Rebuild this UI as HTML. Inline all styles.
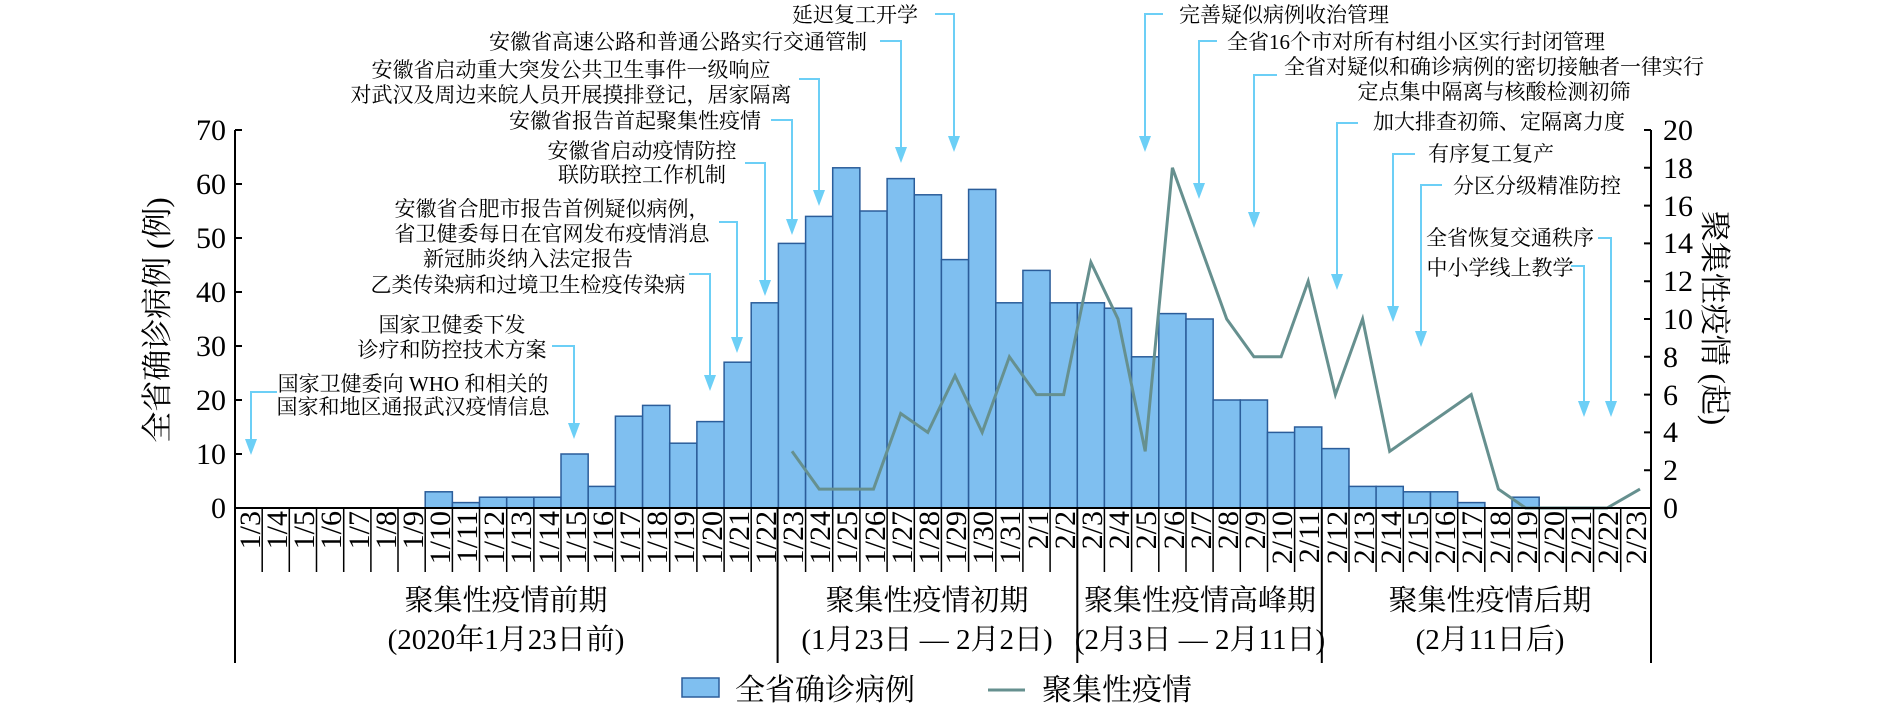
<!DOCTYPE html>
<html><head><meta charset="utf-8"><style>
body{margin:0;background:#fff}
svg{display:block}
text{font-family:"Liberation Serif","Noto Serif CJK SC",serif;fill:#000}
.a{font-size:21px;text-anchor:middle}
.d{font-size:30px;text-anchor:end}
.t{font-size:30px}
</style></head><body>
<svg width="1890" height="710" viewBox="0 0 1890 710" xmlns="http://www.w3.org/2000/svg">
<g fill="#7fbff0" stroke="#2b5d9a" stroke-width="1.5">
<rect x="425.2" y="491.8" width="27.17" height="16.2"/>
<rect x="452.4" y="502.6" width="27.17" height="5.4"/>
<rect x="479.5" y="497.2" width="27.17" height="10.8"/>
<rect x="506.7" y="497.2" width="27.17" height="10.8"/>
<rect x="533.9" y="497.2" width="27.17" height="10.8"/>
<rect x="561.0" y="454" width="27.17" height="54"/>
<rect x="588.2" y="486.4" width="27.17" height="21.6"/>
<rect x="615.4" y="416.2" width="27.17" height="91.8"/>
<rect x="642.6" y="405.4" width="27.17" height="102.6"/>
<rect x="669.7" y="443.2" width="27.17" height="64.8"/>
<rect x="696.9" y="421.6" width="27.17" height="86.4"/>
<rect x="724.1" y="362.2" width="27.17" height="145.8"/>
<rect x="751.2" y="302.8" width="27.17" height="205.2"/>
<rect x="778.4" y="243.4" width="27.17" height="264.6"/>
<rect x="805.6" y="216.4" width="27.17" height="291.6"/>
<rect x="832.7" y="167.8" width="27.17" height="340.2"/>
<rect x="859.9" y="211" width="27.17" height="297"/>
<rect x="887.1" y="178.6" width="27.17" height="329.4"/>
<rect x="914.3" y="194.8" width="27.17" height="313.2"/>
<rect x="941.4" y="259.6" width="27.17" height="248.4"/>
<rect x="968.6" y="189.4" width="27.17" height="318.6"/>
<rect x="995.8" y="302.8" width="27.17" height="205.2"/>
<rect x="1022.9" y="270.4" width="27.17" height="237.6"/>
<rect x="1050.1" y="302.8" width="27.17" height="205.2"/>
<rect x="1077.3" y="302.8" width="27.17" height="205.2"/>
<rect x="1104.4" y="308.2" width="27.17" height="199.8"/>
<rect x="1131.6" y="356.8" width="27.17" height="151.2"/>
<rect x="1158.8" y="313.6" width="27.17" height="194.4"/>
<rect x="1186.0" y="319" width="27.17" height="189"/>
<rect x="1213.1" y="400" width="27.17" height="108"/>
<rect x="1240.3" y="400" width="27.17" height="108"/>
<rect x="1267.5" y="432.4" width="27.17" height="75.6"/>
<rect x="1294.6" y="427" width="27.17" height="81"/>
<rect x="1321.8" y="448.6" width="27.17" height="59.4"/>
<rect x="1349.0" y="486.4" width="27.17" height="21.6"/>
<rect x="1376.1" y="486.4" width="27.17" height="21.6"/>
<rect x="1403.3" y="491.8" width="27.17" height="16.2"/>
<rect x="1430.5" y="491.8" width="27.17" height="16.2"/>
<rect x="1457.7" y="502.6" width="27.17" height="5.4"/>
<rect x="1512.0" y="497.2" width="27.17" height="10.8"/>
</g>
<polyline fill="none" stroke="#66908f" stroke-width="3" stroke-linejoin="miter" points="792,451.3 819.2,489.1 846.3,489.1 873.5,489.1 900.7,413.5 927.8,432.4 955,375.7 982.2,432.4 1009.4,356.8 1036.5,394.6 1063.7,394.6 1090.9,262.3 1118,319 1145.2,451.3 1172.4,167.8 1199.5,243.4 1226.7,319 1253.9,356.8 1281.1,356.8 1308.2,281.2 1335.4,394.6 1362.6,319 1389.7,451.3 1416.9,432.4 1444.1,413.5 1471.2,394.6 1498.4,489.1 1525.6,508 1552.7,508 1579.9,508 1607.1,508 1640,489.1"/>
<g stroke="#000" stroke-width="2" fill="none">
<line x1="235" y1="130" x2="235" y2="663"/>
<line x1="1651" y1="130" x2="1651" y2="663"/>
<line x1="234" y1="508" x2="1652" y2="508"/>
<path d="M235 130h7M235 184h7M235 238h7M235 292h7M235 346h7M235 400h7M235 454h7"/>
<path d="M1651 130h-7M1651 167.8h-7M1651 205.6h-7M1651 243.4h-7M1651 281.2h-7M1651 319h-7M1651 356.8h-7M1651 394.6h-7M1651 432.4h-7M1651 470.2h-7"/>
<path d="M777.6 508V663M1077.3 508V663M1321.8 508V663"/>
</g>
<g stroke="#000" stroke-width="1.5">
<path d="M262.2 508V572M289.3 508V572M316.5 508V572M343.7 508V572M370.9 508V572M398 508V572M425.2 508V572M452.4 508V572M479.5 508V572M506.7 508V572M533.9 508V572M561 508V572M588.2 508V572M615.4 508V572M642.6 508V572M669.7 508V572M696.9 508V572M724.1 508V572M751.2 508V572M805.6 508V572M832.7 508V572M859.9 508V572M887.1 508V572M914.3 508V572M941.4 508V572M968.6 508V572M995.8 508V572M1022.9 508V572M1050.1 508V572M1104.4 508V572M1131.6 508V572M1158.8 508V572M1186 508V572M1213.1 508V572M1240.3 508V572M1267.5 508V572M1294.6 508V572M1349 508V572M1376.1 508V572M1403.3 508V572M1430.5 508V572M1457.7 508V572M1484.8 508V572M1512 508V572M1539.2 508V572M1566.3 508V572M1593.5 508V572M1620.7 508V572"/>
</g>
<g class="t" text-anchor="end">
<text x="226" y="140">70</text><text x="226" y="194">60</text><text x="226" y="248">50</text><text x="226" y="302">40</text><text x="226" y="356">30</text><text x="226" y="410">20</text><text x="226" y="464">10</text><text x="226" y="518">0</text>
</g>
<g class="t">
<text x="1663" y="140">20</text><text x="1663" y="178">18</text><text x="1663" y="216">16</text><text x="1663" y="253">14</text><text x="1663" y="291">12</text><text x="1663" y="329">10</text><text x="1663" y="367">8</text><text x="1663" y="405">6</text><text x="1663" y="442">4</text><text x="1663" y="480">2</text><text x="1663" y="518">0</text>
</g>
<text class="t" transform="translate(168,320) rotate(-90)" text-anchor="middle" style="font-size:31px">全省确诊病例 (例)</text>
<text class="t" transform="translate(1704,318) rotate(90)" text-anchor="middle" style="font-size:31px">聚集性疫情 (起)</text>
<g class="d" transform="translate(3,0)">
<text transform="translate(257,511) rotate(-90)">1/3</text>
<text transform="translate(284,511) rotate(-90)">1/4</text>
<text transform="translate(311,511) rotate(-90)">1/5</text>
<text transform="translate(338,511) rotate(-90)">1/6</text>
<text transform="translate(366,511) rotate(-90)">1/7</text>
<text transform="translate(393,511) rotate(-90)">1/8</text>
<text transform="translate(420,511) rotate(-90)">1/9</text>
<text transform="translate(447,511) rotate(-90)">1/10</text>
<text transform="translate(474,511) rotate(-90)">1/11</text>
<text transform="translate(501,511) rotate(-90)">1/12</text>
<text transform="translate(528,511) rotate(-90)">1/13</text>
<text transform="translate(556,511) rotate(-90)">1/14</text>
<text transform="translate(583,511) rotate(-90)">1/15</text>
<text transform="translate(610,511) rotate(-90)">1/16</text>
<text transform="translate(637,511) rotate(-90)">1/17</text>
<text transform="translate(664,511) rotate(-90)">1/18</text>
<text transform="translate(691,511) rotate(-90)">1/19</text>
<text transform="translate(719,511) rotate(-90)">1/20</text>
<text transform="translate(746,511) rotate(-90)">1/21</text>
<text transform="translate(773,511) rotate(-90)">1/22</text>
<text transform="translate(800,511) rotate(-90)">1/23</text>
<text transform="translate(827,511) rotate(-90)">1/24</text>
<text transform="translate(854,511) rotate(-90)">1/25</text>
<text transform="translate(882,511) rotate(-90)">1/26</text>
<text transform="translate(909,511) rotate(-90)">1/27</text>
<text transform="translate(936,511) rotate(-90)">1/28</text>
<text transform="translate(963,511) rotate(-90)">1/29</text>
<text transform="translate(990,511) rotate(-90)">1/30</text>
<text transform="translate(1017,511) rotate(-90)">1/31</text>
<text transform="translate(1045,511) rotate(-90)">2/1</text>
<text transform="translate(1072,511) rotate(-90)">2/2</text>
<text transform="translate(1099,511) rotate(-90)">2/3</text>
<text transform="translate(1126,511) rotate(-90)">2/4</text>
<text transform="translate(1153,511) rotate(-90)">2/5</text>
<text transform="translate(1181,511) rotate(-90)">2/6</text>
<text transform="translate(1208,511) rotate(-90)">2/7</text>
<text transform="translate(1235,511) rotate(-90)">2/8</text>
<text transform="translate(1262,511) rotate(-90)">2/9</text>
<text transform="translate(1289,511) rotate(-90)">2/10</text>
<text transform="translate(1316,511) rotate(-90)">2/11</text>
<text transform="translate(1344,511) rotate(-90)">2/12</text>
<text transform="translate(1371,511) rotate(-90)">2/13</text>
<text transform="translate(1398,511) rotate(-90)">2/14</text>
<text transform="translate(1425,511) rotate(-90)">2/15</text>
<text transform="translate(1452,511) rotate(-90)">2/16</text>
<text transform="translate(1479,511) rotate(-90)">2/17</text>
<text transform="translate(1507,511) rotate(-90)">2/18</text>
<text transform="translate(1534,511) rotate(-90)">2/19</text>
<text transform="translate(1561,511) rotate(-90)">2/20</text>
<text transform="translate(1588,511) rotate(-90)">2/21</text>
<text transform="translate(1615,511) rotate(-90)">2/22</text>
<text transform="translate(1643,511) rotate(-90)">2/23</text>
</g>
<g class="t" text-anchor="middle" style="font-size:29px">
<text x="506" y="610">聚集性疫情前期</text><text x="506" y="649">(2020年1月23日前)</text>
<text x="927" y="610">聚集性疫情初期</text><text x="927" y="649">(1月23日 — 2月2日)</text>
<text x="1200" y="610">聚集性疫情高峰期</text><text x="1200" y="649">(2月3日 — 2月11日)</text>
<text x="1490" y="610">聚集性疫情后期</text><text x="1490" y="649">(2月11日后)</text>
</g>
<g fill="none" stroke="#6ccff6" stroke-width="2">
<polyline points="935,14 954,14 954,138"/>
<polyline points="880,41 901,41 901,149"/>
<polyline points="799,79 819,79 819,192"/>
<polyline points="771,120 792,120 792,221"/>
<polyline points="745,163 765,163 765,282"/>
<polyline points="719,222 737,222 737,339"/>
<polyline points="689,274 710,274 710,377"/>
<polyline points="552,346 574,346 574,425"/>
<polyline points="277,392 251,392 251,441"/>
<polyline points="1163,14 1145,14 1145,138"/>
<polyline points="1217,41 1199,41 1199,185"/>
<polyline points="1277,75 1254,75 1254,214"/>
<polyline points="1358,123 1337,123 1337,276"/>
<polyline points="1415,154 1393,154 1393,308"/>
<polyline points="1442,185 1421,185 1421,333"/>
<polyline points="1598,238 1611,238 1611,403"/>
<polyline points="1571,266 1584,266 1584,403"/>
</g>
<g fill="#6ccff6">
<path d="M948 136h12l-6 16z"/><path d="M895 147h12l-6 16z"/><path d="M813 190h12l-6 16z"/><path d="M786 219h12l-6 16z"/><path d="M759 280h12l-6 16z"/><path d="M731 337h12l-6 16z"/><path d="M704 375h12l-6 16z"/><path d="M568 423h12l-6 16z"/><path d="M245 439h12l-6 16z"/><path d="M1139 136h12l-6 16z"/><path d="M1193 183h12l-6 16z"/><path d="M1248 212h12l-6 16z"/><path d="M1331 274h12l-6 16z"/><path d="M1387 306h12l-6 16z"/><path d="M1415 331h12l-6 16z"/><path d="M1605 401h12l-6 16z"/><path d="M1578 401h12l-6 16z"/>
</g>
<g class="a">
<text x="855" y="22">延迟复工开学</text>
<text x="678" y="49">安徽省高速公路和普通公路实行交通管制</text>
<text x="571" y="77">安徽省启动重大突发公共卫生事件一级响应</text>
<text x="571" y="102">对武汉及周边来皖人员开展摸排登记，居家隔离</text>
<text x="635" y="128">安徽省报告首起聚集性疫情</text>
<text x="642" y="158">安徽省启动疫情防控</text>
<text x="642" y="182">联防联控工作机制</text>
<text x="552" y="216">安徽省合肥市报告首例疑似病例，</text>
<text x="552" y="241">省卫健委每日在官网发布疫情消息</text>
<text x="528" y="266">新冠肺炎纳入法定报告</text>
<text x="528" y="292">乙类传染病和过境卫生检疫传染病</text>
<text x="452" y="332">国家卫健委下发</text>
<text x="452" y="357">诊疗和防控技术方案</text>
<text x="413" y="391">国家卫健委向 WHO 和相关的</text>
<text x="413" y="414">国家和地区通报武汉疫情信息</text>
<text x="1284" y="22">完善疑似病例收治管理</text>
<text x="1416" y="49">全省16个市对所有村组小区实行封闭管理</text>
<text x="1494" y="74">全省对疑似和确诊病例的密切接触者一律实行</text>
<text x="1494" y="99">定点集中隔离与核酸检测初筛</text>
<text x="1499" y="129">加大排查初筛、定隔离力度</text>
<text x="1491" y="161">有序复工复产</text>
<text x="1537" y="193">分区分级精准防控</text>
<text x="1510" y="245">全省恢复交通秩序</text>
<text x="1500" y="275">中小学线上教学</text>
</g>
<rect x="682" y="678" width="37" height="19" fill="#7fbff0" stroke="#2b5d9a" stroke-width="1.5"/>
<text class="t" x="735" y="700">全省确诊病例</text>
<line x1="988" y1="690" x2="1025" y2="690" stroke="#66908f" stroke-width="3"/>
<text class="t" x="1042" y="700">聚集性疫情</text>
</svg>
</body></html>
